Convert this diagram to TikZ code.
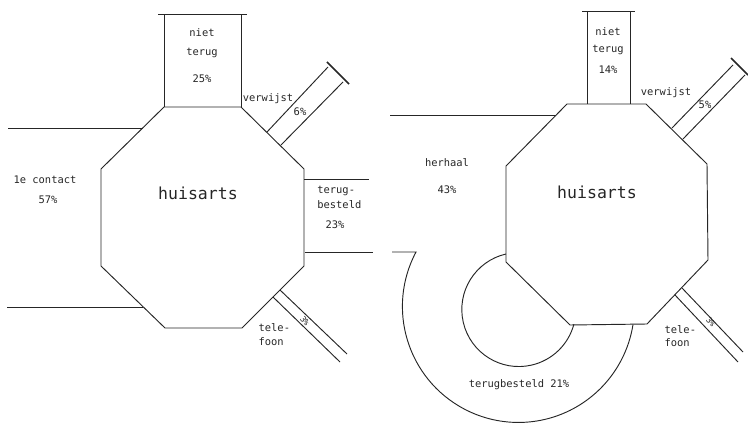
\documentclass[tikz,border=0pt]{standalone}
\usepackage{fontspec}
\setmonofont{DejaVu Sans Mono}

\begin{document}
\begin{tikzpicture}[x=.03cm,y=-.03cm,font=\ttfamily\fontsize{8.9}{10}\selectfont,
  line width=.8pt,black!85,
  big/.style={font=\ttfamily\fontsize{14.1}{16}\selectfont},
  tiny/.style={font=\ttfamily\fontsize{7}{8}\selectfont,rotate=-50,inner sep=0pt},
  capline/.style={line width=1.4pt}]
\useasboundingbox (0,0) rectangle (748,427);
% left: first contact
\draw (164,107) -- (241,107) -- (304,169) -- (304,266) -- (242,328) -- (165,328) -- (101,266) -- (101,169) -- cycle;
\draw (158,14) -- (247,14);
\foreach \x in {164,241}{\draw (\x,107) -- (\x,14);}
\draw (8,128) -- (143,128);
\draw (7,307) -- (143,307);
\draw (304,179) -- (369,179);
\draw (305,252) -- (373,252);
\draw (267,132) -- (328,67);
\draw (281,145) -- (343,82);
\draw[capline] (327,62) -- (349,84);
\draw (280,290) -- (347,354);
\draw (273,297) -- (340,362);
\node[big] (hl) at (198,193) {huisarts};
\node (nl1) at (202,33) {niet};
\node (nl2) at (202,53) {terug};
\node (nl3) at (202,79) {25\%};
\node (vl1) at (268,99) {verwijst};
\node (vl2) at (300,112) {6\%};
\node (cl1) at (45,180) {1e contact};
\node (cl2) at (48,200) {57\%};
\node[anchor=west] (bl1) at (313,191) {terug-};
\node[anchor=west] (bl2) at (313,205) {besteld};
\node (bl3) at (335,225) {23\%};
\node[tiny] (tl0) at (305,321) {3\%};
\node[anchor=west,inner sep=1pt] (tl1) at (257,328) {tele-};
\node[anchor=west,inner sep=1pt] (tl2) at (257,342) {foon};
% right: repeat visits
\draw (567,104) -- (646,104) -- (707,164) -- (708,260) -- (647,324) -- (570,325) -- (506,262) -- (506,166) -- cycle;
\draw (582,11) -- (635,11);
\foreach \x in {587,630}{\draw (\x,104) -- (\x,11);}
\draw (390,115) -- (556,115);
\draw (392,252) -- (416,252) arc[start angle=208,end angle=9,radius=116];
\draw (506,254) arc[start angle=257,end angle=15,radius=57];
\draw (672,128) -- (733,65);
\draw (683,139) -- (745,75);
\draw[capline] (731,58) -- (748,75);
\draw (682,288) -- (743,352);
\draw (675,295) -- (738,362);
\node[big] (hr) at (597,192) {huisarts};
\node (nr1) at (608,32) {niet};
\node (nr2) at (608,50) {terug};
\node (nr3) at (608,70) {14\%};
\node (vr1) at (666,93) {verwijst};
\node (vr2) at (705,105) {5\%};
\node (hh1) at (447,163) {herhaal};
\node (hh2) at (447,190) {43\%};
\node (rb) at (519,385) {terugbesteld 21\%};
\node[tiny] (tr0) at (711,322) {3\%};
\node[anchor=west,inner sep=1pt] (tr1) at (663,330) {tele-};
\node[anchor=west,inner sep=1pt] (tr2) at (663,343) {foon};
\end{tikzpicture}
\end{document}
